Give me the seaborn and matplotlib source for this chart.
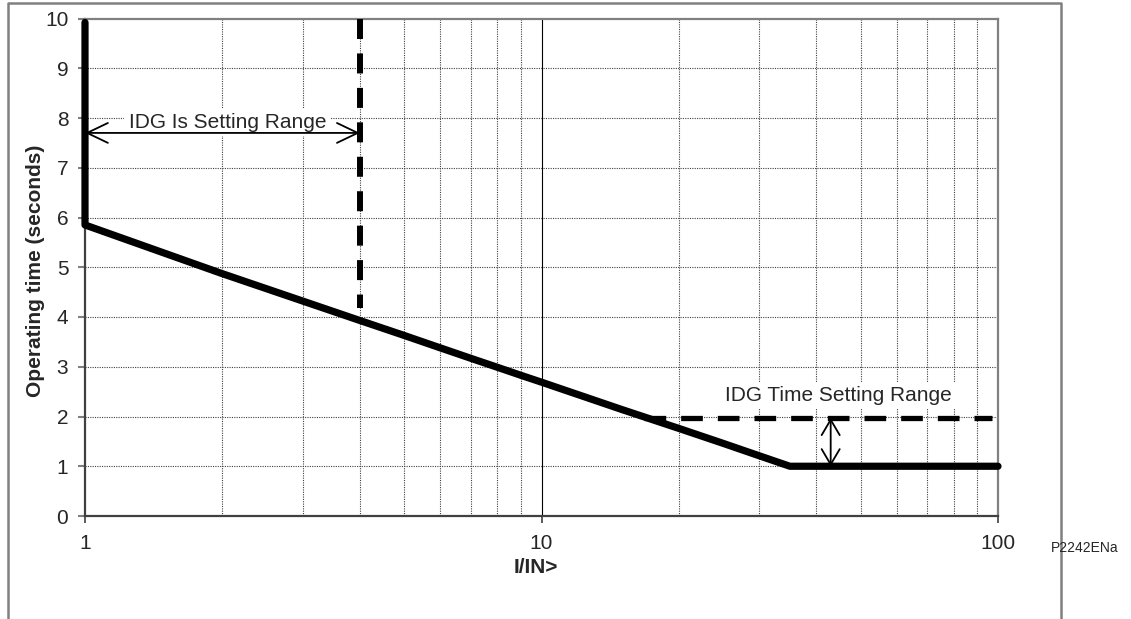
import numpy as np
import pandas as pd
import seaborn as sns
import matplotlib
matplotlib.use('Agg')
import matplotlib.pyplot as plt
from matplotlib.lines import Line2D
from matplotlib.ticker import FixedLocator, NullFormatter

# IDG characteristic (I/IN> vs operating time in s)
curve_i = [1, 1, 2, 3, 4, 5, 6, 7, 8, 9, 10, 15, 20, 25, 30, 35, 100]
curve_t = [9.92, 5.85, 4.87, 4.32, 3.93, 3.63, 3.38, 3.17, 2.99, 2.83, 2.69, 2.14, 1.76, 1.46, 1.21, 1.0, 1.0]

# dashed limits of the setting ranges
is_limit_i = [4, 4]
is_limit_t = [10, 4.18]
time_limit_i = [16.8, 97]
time_limit_t = [1.97, 1.97]

# range arrows
is_arrow = [(1, 7.7), (4, 7.7)]
time_arrow = [(43, 1.0), (43, 1.97)]

x_ticks = [1, 10, 100]
x_ticklabels = ['1', '10', '100']
x_minor = [2, 3, 4, 5, 6, 7, 8, 9, 20, 30, 40, 50, 60, 70, 80, 90]
y_ticks = list(range(0, 11))

sns.set_style('white')
plt.rcParams['font.family'] = ['Liberation Sans', 'DejaVu Sans']
plt.rcParams['lines.scale_dashes'] = False

fig = plt.figure(figsize=(11.31, 6.19), dpi=100)
ax = fig.add_axes([85 / 1131, 1 - 516 / 619, 913 / 1131, 497.5 / 619])

df = pd.DataFrame({'i': curve_i, 't': curve_t})
sns.lineplot(data=df, x='i', y='t', ax=ax, estimator=None, sort=False,
             color='black', linewidth=5.2, solid_capstyle='round',
             solid_joinstyle='round', clip_on=False, zorder=5)

sns.lineplot(x=is_limit_i, y=is_limit_t, ax=ax, estimator=None, sort=False,
             color='black', linewidth=4.3, linestyle=(0, (14.4, 10.4)),
             dash_capstyle='butt', zorder=4)
sns.lineplot(x=time_limit_i, y=time_limit_t, ax=ax, estimator=None, sort=False,
             color='black', linewidth=3.8, linestyle=(0, (15.6, 10.8)),
             dash_capstyle='butt', zorder=4)

ax.set_xscale('log')
ax.set_xlim(1, 100)
ax.set_ylim(0, 10)

# grid
ax.xaxis.set_major_locator(FixedLocator(x_ticks))
ax.set_xticklabels(x_ticklabels)
ax.xaxis.set_minor_locator(FixedLocator(x_minor))
ax.xaxis.set_minor_formatter(NullFormatter())
ax.set_yticks(y_ticks)
for v in x_minor:
    ax.axvline(v, color='#404040', linewidth=0.8, linestyle=(0, (0.8, 0.9)), zorder=1)
for v in y_ticks[1:-1]:
    ax.axhline(v, color='#404040', linewidth=0.8, linestyle=(0, (0.8, 0.9)), zorder=1)
ax.axvline(10, color='black', linewidth=0.8, zorder=1)

ax.tick_params(axis='x', which='major', direction='out', length=5, width=1.2,
               color='#404040', labelsize=15, pad=8, bottom=True)
ax.tick_params(axis='x', which='minor', length=0)
ax.tick_params(axis='y', direction='out', length=5, width=1.5,
               color='#808080', labelsize=15, pad=7, left=True)

for side in ['left', 'bottom']:
    ax.spines[side].set_color('#404040')
    ax.spines[side].set_linewidth(1.6)
for side in ['top', 'right']:
    ax.spines[side].set_color('#808080')
    ax.spines[side].set_linewidth(1.6)

ax.set_xlabel('I/IN>', fontsize=15, fontweight='bold')
ax.set_ylabel('Operating time (seconds)', fontsize=15, fontweight='bold')
ax.xaxis.set_label_coords(0.494, -0.1045)
ax.xaxis.label.set_va('center')
ax.yaxis.set_label_coords(-0.054, 0.492)
ax.yaxis.label.set_va('center')

# annotations
ax.annotate('', xy=is_arrow[1], xytext=is_arrow[0], zorder=6,
            arrowprops=dict(arrowstyle='<->,head_length=1.15,head_width=0.55', lw=1.3,
                            color='black', shrinkA=0, shrinkB=0, mutation_scale=13))
ax.annotate('', xy=time_arrow[1], xytext=time_arrow[0], zorder=6,
            arrowprops=dict(arrowstyle='<->,head_length=0.85,head_width=0.5', lw=1.3,
                            color='black', shrinkA=0, shrinkB=0, mutation_scale=13))

ax.text(2.05, 7.8, 'IDG Is Setting Range', fontsize=15, ha='center', va='baseline',
        zorder=3, bbox=dict(facecolor='white', edgecolor='none', pad=3))
ax.text(44.7, 2.31, 'IDG Time Setting Range', fontsize=15, ha='center', va='baseline',
        zorder=3, bbox=dict(facecolor='white', edgecolor='none', pad=3))

fig.text(1051 / 1131, 1 - 548 / 619, 'P2242ENa', fontsize=10, ha='left', va='center')

# outer frame (open at the bottom)
fx = [8 / 1131, 8 / 1131, 1061 / 1131, 1061 / 1131]
fy = [0, 1 - 3 / 619, 1 - 3 / 619, 0]
fig.add_artist(Line2D(fx, fy, color='#808080', linewidth=1.8, transform=fig.transFigure))

fig.savefig('out.png', dpi=100)
